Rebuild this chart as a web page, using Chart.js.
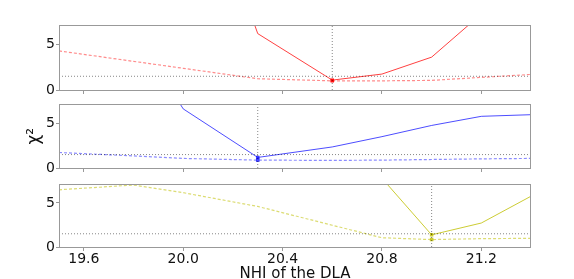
<!DOCTYPE html>
<html>
<head>
<meta charset="utf-8">
<script src="https://cdn.jsdelivr.net/npm/chart.js@4"></script>
<style>
  body { margin: 0; background: #fff; }
  #wrap { position: relative; width: 574px; height: 279px; overflow: hidden; }
  canvas { position: absolute; left: 0; }
</style>
</head>
<body>
<div id="wrap">
  <canvas id="c1" width="574" height="100" style="top:0px"></canvas>
  <canvas id="c2" width="574" height="85" style="top:95px"></canvas>
  <canvas id="c3" width="574" height="108" style="top:175px"></canvas>
</div>
<script>
// NHI grid of the fits
var nhi = [19.5, 19.8, 20.0, 20.3, 20.6, 20.8, 21.0, 21.2, 21.4];

// panel 1 (red)
var redSolid  = [null, null, 29, 6.16, 1.08, 1.74, 3.59, 8.3, 12];
var redDashed = [4.27, 3.13, 2.37, 1.23, 1.0, 1.0, 1.05, 1.38, 1.7];
// panel 2 (blue)
var blueSolid  = [null, 15.4, 6.6, 1.18, 2.35, 3.5, 4.75, 5.77, 5.95];
var blueDashed = [1.73, 1.35, 1.07, 0.88, 0.85, 0.88, 0.95, 1.02, 1.07];
// panel 3 (yellow)
var yelSolid  = [null, null, null, null, null, 7.8, 1.38, 2.72, 5.76];
var yelDashed = [6.49, 7.03, 6.16, 4.6, 2.47, 1.05, 0.84, 0.95, 0.98];

var bestNhi = [20.6, 20.3, 21.0];
var threshold = 1.5;
var xTicks = [19.6, 20.0, 20.4, 20.8, 21.2];
var yTicks = [0, 5];
var xMin = 19.5, xMax = 21.4, yMax = 7.1;

var FONT = "'DejaVu Sans', sans-serif";

function pts(ys) {
    var out = [];
    for (var i = 0; i < nhi.length; i++) {
        out.push({x: nhi[i], y: ys[i]});
    }
    return out;
}

function valAt(ys, x) {
    return ys[nhi.indexOf(x)];
}

var framePlugin = {
    id: 'frame',
    afterDraw: function (chart) {
        var a = chart.chartArea, ctx = chart.ctx;
        ctx.save();
        ctx.strokeStyle = '#999';
        ctx.lineWidth = 1;
        ctx.strokeRect(Math.round(a.left) + 0.5, Math.round(a.top) + 0.5,
            Math.round(a.right - a.left) - 1, Math.round(a.bottom - a.top));
        ctx.restore();
    }
};

function panel(id, solid, dashed, best, color, dashColor, opt) {
    var ctx = document.getElementById(id).getContext('2d');
    var dot = 'rgba(0,0,0,0.6)';
    return new Chart(ctx, {
        type: 'line',
        data: {
            datasets: [
                {data: [{x: xMin, y: threshold}, {x: xMax, y: threshold}],
                    borderColor: dot, borderWidth: 0.8, borderDash: [1, 2]},
                {data: [{x: best, y: 0}, {x: best, y: yMax}],
                    borderColor: dot, borderWidth: 0.8, borderDash: [1, 2]},
                {data: pts(dashed), borderColor: dashColor, borderWidth: 1.2, borderDash: [3, 2]},
                {data: pts(solid), borderColor: color, borderWidth: 1},
                {data: [{x: best, y: valAt(solid, best)}, {x: best, y: valAt(dashed, best)}],
                    showLine: false, pointRadius: 2.5, pointStyle: 'rect',
                    pointBackgroundColor: color, pointBorderColor: color, pointBorderWidth: 0}
            ]
        },
        options: {
            responsive: false,
            animation: false,
            devicePixelRatio: 1,
            parsing: false,
            elements: {point: {radius: 0}, line: {tension: 0, fill: false}},
            layout: {padding: {top: opt.top, right: 43, left: 0, bottom: 0}},
            plugins: {legend: {display: false}, tooltip: {enabled: false}},
            scales: {
                x: {
                    type: 'linear', min: xMin, max: xMax,
                    afterBuildTicks: function (s) { s.ticks = xTicks.map(function (v) { return {value: v}; }); },
                    afterFit: function (s) { s.height = opt.xh; },
                    border: {display: false},
                    grid: {drawOnChartArea: false, drawTicks: true, tickLength: 4, color: '#999'},
                    ticks: {display: opt.labels, color: '#111', padding: 1,
                        font: {family: FONT, size: 14, lineHeight: 1},
                        callback: function (v) { return v.toFixed(1); }},
                    title: {display: opt.labels, text: 'NHI of the DLA', color: '#111',
                        font: {family: FONT, size: 15, lineHeight: 1}, padding: {top: 0, bottom: 1}}
                },
                y: {
                    min: 0, max: yMax,
                    afterBuildTicks: function (s) { s.ticks = yTicks.map(function (v) { return {value: v}; }); },
                    afterFit: function (s) { s.width = 59; },
                    border: {display: false},
                    grid: {drawOnChartArea: false, drawTicks: true, tickLength: 3, color: '#999'},
                    ticks: {color: '#111', padding: 1, font: {family: FONT, size: 14}},
                    title: {display: opt.ytitle, text: 'χ²', color: '#111',
                        font: {family: FONT, size: 17}, padding: {top: 24, bottom: 0}}
                }
            }
        },
        plugins: [framePlugin]
    });
}

panel('c1', redSolid, redDashed, bestNhi[0], 'rgba(255,0,0,0.75)', 'rgba(255,0,0,0.45)',
    {top: 25, xh: 10, labels: false, ytitle: false});
panel('c2', blueSolid, blueDashed, bestNhi[1], 'rgba(0,0,255,0.7)', 'rgba(0,0,255,0.45)',
    {top: 8, xh: 12, labels: false, ytitle: true});
panel('c3', yelSolid, yelDashed, bestNhi[2], 'rgba(191,191,0,0.8)', 'rgba(191,191,0,0.55)',
    {top: 6, xh: 36, labels: true, ytitle: false});
</script>
</body>
</html>
